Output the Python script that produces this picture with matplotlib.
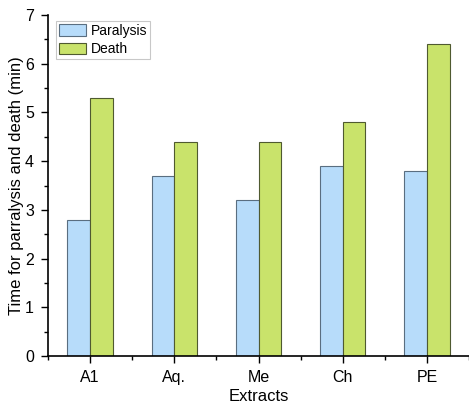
import numpy as np
import matplotlib
matplotlib.use('Agg')
import matplotlib.pyplot as plt
from matplotlib.ticker import MultipleLocator

plt.rcParams['font.family'] = ['Liberation Sans', 'DejaVu Sans']

extracts = ['A1', 'Aq.', 'Me', 'Ch', 'PE']
paralysis = [2.8, 3.7, 3.2, 3.9, 3.8]
death = [5.3, 4.4, 4.4, 4.8, 6.4]

x = np.arange(1, len(extracts) + 1)
w = 0.27

fig = plt.figure(figsize=(4.69, 4.08), dpi=100)
ax = fig.add_axes([48 / 469, 1 - 356 / 408, 1 - 48 / 469, (356 - 15) / 408])

ax.bar(x - w / 2, paralysis, w, color='#b7dcfa', edgecolor='#5a6e80', linewidth=0.8, label='Paralysis')
ax.bar(x + w / 2, death, w, color='#c9e36b', edgecolor='#4f5a30', linewidth=0.8, label='Death')

ax.set_xlim(0.5, 5.5)
ax.set_ylim(0, 7)
ax.set_xticks(x)
ax.set_xticklabels(extracts)
ax.xaxis.set_minor_locator(MultipleLocator(0.5))
ax.yaxis.set_major_locator(MultipleLocator(1))
ax.yaxis.set_minor_locator(MultipleLocator(0.5))
ax.tick_params(which='major', direction='out', length=5, width=1, labelsize=11.5, pad=5)
ax.tick_params(which='minor', direction='out', length=3, width=1)
ax.spines['top'].set_visible(False)
ax.spines['right'].set_visible(False)
ax.spines['left'].set_linewidth(1.2)
ax.spines['bottom'].set_linewidth(1.2)

ax.set_xlabel('Extracts', fontsize=12, labelpad=3)
ax.set_ylabel('Time for parralysis and death (min)', fontsize=12, labelpad=1)

leg = ax.legend(loc='upper left', bbox_to_anchor=(0.012, 0.99), fontsize=10, frameon=True,
                fancybox=False, edgecolor='#bbbbbb', handlelength=2.0, handleheight=0.9,
                borderpad=0.2, labelspacing=0.3, handletextpad=0.3, borderaxespad=0.2)
leg.get_frame().set_linewidth(0.8)

fig.savefig('out.png', dpi=100)
